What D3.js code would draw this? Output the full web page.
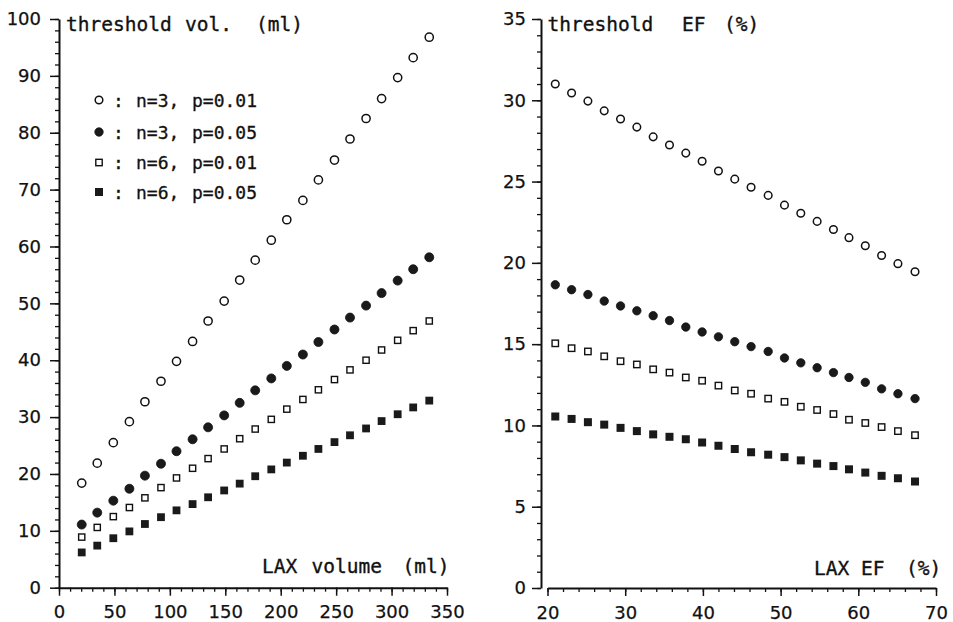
<!DOCTYPE html>
<html><head><meta charset="utf-8">
<script src="https://cdn.jsdelivr.net/npm/d3@7"></script>
<style>
html,body{margin:0;padding:0;background:#fff;}
svg{display:block;}
.lab{font-family:"DejaVu Sans Mono",monospace;font-size:19.5px;fill:#111;stroke:#111;stroke-width:0.35px;}
.leg{font-family:"DejaVu Sans Mono",monospace;font-size:18px;fill:#111;stroke:#111;stroke-width:0.3px;}
</style></head>
<body>
<svg id="c" width="953" height="622"></svg>
<script>
// ---------- data: left panel (LAX volume) ----------
const volX = [20.5, 34.5, 49, 63.5, 77.5, 92, 106, 120.5, 134.5, 149, 163, 177, 191.5, 205.5, 220, 234, 248.5, 262.5, 277, 291, 305.5, 319.5, 334];
const volN3p01 = [18.4, 21.9, 25.5, 29.2, 32.7, 36.3, 39.8, 43.3, 46.9, 50.4, 54.1, 57.6, 61.1, 64.7, 68.1, 71.7, 75.2, 78.9, 82.5, 86.0, 89.7, 93.2, 96.8];
const volN3p05 = [11.1, 13.2, 15.3, 17.4, 19.7, 21.8, 24.0, 26.1, 28.2, 30.3, 32.5, 34.7, 36.8, 39.0, 41.0, 43.2, 45.4, 47.5, 49.6, 51.8, 54.0, 56.0, 58.1];
const volN6p01 = [8.9, 10.6, 12.5, 14.1, 15.8, 17.6, 19.3, 21.0, 22.7, 24.4, 26.2, 27.9, 29.6, 31.4, 33.1, 34.8, 36.6, 38.3, 40.0, 41.8, 43.5, 45.2, 46.9];
const volN6p05 = [6.2, 7.4, 8.7, 9.9, 11.2, 12.4, 13.6, 14.7, 15.9, 17.1, 18.3, 19.6, 20.8, 22.0, 23.2, 24.4, 25.6, 26.8, 28.0, 29.3, 30.5, 31.7, 32.9];
// ---------- data: right panel (LAX EF) ----------
const efX = [21.0, 23.1, 25.2, 27.3, 29.4, 31.5, 33.6, 35.7, 37.8, 39.9, 42.0, 44.1, 46.2, 48.4, 50.5, 52.6, 54.7, 56.8, 58.8, 60.9, 63.0, 65.1, 67.3];
const efN3p01 = [31.0, 30.45, 29.95, 29.35, 28.85, 28.35, 27.75, 27.25, 26.75, 26.25, 25.65, 25.15, 24.65, 24.15, 23.55, 23.05, 22.55, 22.05, 21.55, 21.05, 20.45, 19.95, 19.45];
const efN3p05 = [18.65, 18.35, 18.05, 17.65, 17.35, 17.05, 16.75, 16.45, 16.05, 15.75, 15.45, 15.15, 14.85, 14.55, 14.15, 13.85, 13.55, 13.25, 12.95, 12.65, 12.25, 11.95, 11.65];
const efN6p01 = [15.05, 14.75, 14.55, 14.25, 13.95, 13.75, 13.45, 13.25, 12.95, 12.75, 12.45, 12.15, 11.95, 11.65, 11.45, 11.15, 10.95, 10.7, 10.35, 10.15, 9.9, 9.65, 9.4];
const efN6p05 = [10.55, 10.4, 10.2, 10.05, 9.85, 9.65, 9.45, 9.3, 9.15, 8.95, 8.75, 8.55, 8.35, 8.2, 8.05, 7.85, 7.65, 7.5, 7.3, 7.1, 6.9, 6.75, 6.55];
// ---------- legend / ticks ----------
const legendN = ["n=3,", "n=3,", "n=6,", "n=6,"];
const legendP = ["p=0.01", "p=0.05", "p=0.01", "p=0.05"];
const markerKinds = ["circleOpen", "circleFilled", "squareOpen", "squareFilled"];
const volXTicks = [0, 50, 100, 150, 200, 250, 300, 350];
const volYTicks = [0, 10, 20, 30, 40, 50, 60, 70, 80, 90, 100];
const efXTicks = [20, 30, 40, 50, 60, 70];
const efYTicks = [0, 5, 10, 15, 20, 25, 30, 35];

const svg = d3.select("#c");
const INK = "#111";

function styleTickText(a) {
  a.attr("font-size", null).attr("font-family", null);
  a.selectAll("text")
    .style("font-family", "'DejaVu Sans', sans-serif")
    .style("font-size", "18px")
    .style("fill", INK)
    .style("stroke", INK)
    .style("stroke-width", "0.25px");
}

function drawMarker(g, kind, cx, cy, big) {
  const r = big ? 4.1 : 3.8;
  const s = big ? 6.2 : 6.4;
  if (kind === "circleOpen") {
    g.append("circle").attr("cx", cx).attr("cy", cy).attr("r", r)
      .attr("fill", "#fff").attr("stroke", INK).attr("stroke-width", 1.5);
  } else if (kind === "circleFilled") {
    g.append("circle").attr("cx", cx).attr("cy", cy).attr("r", r + 0.4)
      .attr("fill", "#1a1a1a").attr("stroke", INK).attr("stroke-width", 0.8);
  } else if (kind === "squareOpen") {
    g.append("rect").attr("x", cx - s / 2).attr("y", cy - s / 2).attr("width", s).attr("height", s)
      .attr("fill", "#fff").attr("stroke", INK).attr("stroke-width", 1.4);
  } else {
    g.append("rect").attr("x", cx - (s + 1.6) / 2).attr("y", cy - (s + 1.6) / 2).attr("width", s + 1.6).attr("height", s + 1.6)
      .attr("fill", "#1a1a1a");
  }
}

function panel(cfg) {
  const g = svg.append("g");
  const x = d3.scaleLinear().domain(cfg.xDomain).range(cfg.xRange);
  const y = d3.scaleLinear().domain(cfg.yDomain).range(cfg.yRange);

  g.append("g").attr("transform", `translate(${cfg.yAxisX},0)`)
    .call(d3.axisLeft(y).tickValues(d3.range(cfg.yDomain[0], cfg.yDomain[1] + 1e-9, cfg.yMinor))
      .tickSize(4).tickSizeOuter(0).tickFormat(""))
    .call(a => a.select(".domain").remove())
    .call(a => a.selectAll("line").attr("stroke", INK).attr("stroke-width", 1.3));
  g.append("g").attr("transform", `translate(${cfg.yAxisX},0)`)
    .call(d3.axisLeft(y).tickValues(cfg.yTicks).tickSize(9).tickSizeOuter(0).tickPadding(cfg.yPad))
    .call(a => a.select(".domain").attr("stroke", INK).attr("stroke-width", 2))
    .call(a => a.selectAll("line").attr("stroke", INK).attr("stroke-width", 1.5))
    .call(styleTickText);

  g.append("g").attr("transform", `translate(0,${cfg.xAxisY})`)
    .call(d3.axisBottom(x).tickValues(d3.range(cfg.xDomain[0], cfg.xDomain[1] + 1e-9, cfg.xMinor))
      .tickSize(4).tickSizeOuter(0).tickFormat(""))
    .call(a => a.select(".domain").remove())
    .call(a => a.selectAll("line").attr("stroke", INK).attr("stroke-width", 1.3));
  g.append("g").attr("transform", `translate(0,${cfg.xAxisY})`)
    .call(d3.axisBottom(x).tickValues(cfg.xTicks).tickSize(8).tickSizeOuter(0).tickPadding(10))
    .call(a => a.select(".domain").attr("stroke", INK).attr("stroke-width", 2))
    .call(a => a.selectAll("line").attr("stroke", INK).attr("stroke-width", 1.5))
    .call(styleTickText);

  const t = g.append("text").attr("class", "lab").attr("y", cfg.titleY);
  cfg.title.forEach((w, i) => t.append("tspan").attr("x", cfg.titleX[i]).text(w));
  const xl = g.append("text").attr("class", "lab").attr("y", cfg.xLabY);
  cfg.xLab.forEach((w, i) => xl.append("tspan").attr("x", cfg.xLabX[i]).text(w));

  const m = g.append("g");
  cfg.series.forEach((vals, si) => {
    vals.forEach((v, i) => drawMarker(m, markerKinds[si], x(cfg.xs[i]), y(v), cfg.big));
  });
  return g;
}

panel({
  xDomain: [0, 350], xRange: [59, 447], yDomain: [0, 100], yRange: [587.7, 19],
  yAxisX: 59, xAxisY: 587.7, yMinor: 2, xMinor: 10, yPad: 9,
  yTicks: volYTicks, xTicks: volXTicks,
  title: ["threshold", "vol.", "(ml)"], titleX: [66, 185, 256], titleY: 31,
  xLab: ["LAX", "volume", "(ml)"], xLabX: [262, 311.5, 402.5], xLabY: 573,
  xs: volX, series: [volN3p01, volN3p05, volN6p01, volN6p05], big: true
});

panel({
  xDomain: [20, 70], xRange: [547.5, 936], yDomain: [0, 35], yRange: [588, 19],
  yAxisX: 541, xAxisY: 588, yMinor: 1, xMinor: 2, yPad: 6,
  yTicks: efYTicks, xTicks: efXTicks,
  title: ["threshold", "EF", "(%)"], titleX: [547.5, 682, 724], titleY: 31,
  xLab: ["LAX", "EF", "(%)"], xLabX: [814, 861, 906], xLabY: 575,
  xs: efX, series: [efN3p01, efN3p05, efN6p01, efN6p05], big: false
});

const leg = svg.append("g");
const legRowY = [100, 132, 162.5, 192];
markerKinds.forEach((k, i) => {
  drawMarker(leg, k, 99, legRowY[i], false);
  const tx = leg.append("text").attr("class", "leg").attr("y", legRowY[i] + 6.5);
  tx.append("tspan").attr("x", 113).text(":");
  tx.append("tspan").attr("x", 136).text(legendN[i]);
  tx.append("tspan").attr("x", 192).text(legendP[i]);
});
</script>
</body></html>
